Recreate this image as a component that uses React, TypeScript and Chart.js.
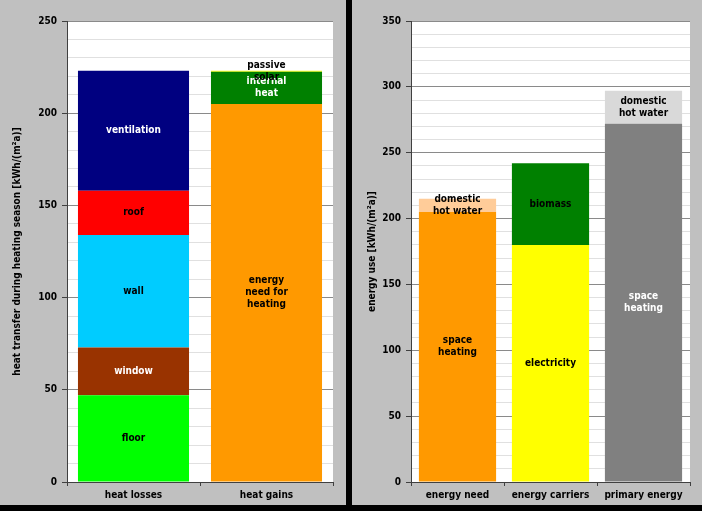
import React, { useEffect, useRef } from 'react';
import { Chart, registerables } from 'chart.js';

Chart.register(...registerables);

const FONT_FAMILY = '"DejaVu Sans Condensed", "DejaVu Sans", Verdana, sans-serif';
const FONT_SIZE = 10;

// ---- Left chart data: heat balance ----
const balanceCategories = ['heat losses', 'heat gains'];
const lossParts = ['floor', 'window', 'wall', 'roof', 'ventilation'];
const lossValues = [47, 26, 61, 24, 65];
const lossLabels = ['floor', 'window', 'wall', 'roof', 'ventilation'];
const gainParts = ['energy need for heating', 'internal heat', 'passive solar'];
const gainValues = [205, 17.5, 0.5];
const gainLabels = ['energy\nneed for\nheating', 'internal\nheat', 'passive\nsolar'];
const balanceMax = 250;
const balanceTitle = 'heat transfer during heating season [kWh/(m²a)]';

// ---- Right chart data: energy use ----
const useCategories = ['energy need', 'energy carriers', 'primary energy'];
const baseValues = [205, 180, 272];
const baseLabels = ['space\nheating', 'electricity', 'space\nheating'];
const topValues = [10, 62, 25];
const topLabels = ['domestic\nhot water', 'biomass', 'domestic\nhot water'];
const useMax = 350;
const useTitle = 'energy use [kWh/(m²a)]';

// ---- Styles ----
const lossColors = ['#00ff00', '#993300', '#00ccff', '#ff0000', '#000080'];
const lossTextColors = ['#000', '#fff', '#000', '#000', '#fff'];
const gainColors = ['#ff9900', '#008000', '#ffff00'];
const gainTextColors = ['#000', '#fff', '#000'];
const baseColors = ['#ff9900', '#ffff00', '#808080'];
const baseTextColors = ['#000', '#000', '#fff'];
const topColors = ['#ffcc99', '#008000', '#d9d9d9'];
const topTextColors = ['#000', '#000', '#000'];

const fontMain = { family: FONT_FAMILY, size: FONT_SIZE, weight: 'bold' as const };

const plotBackground = {
  id: 'plotBackground',
  beforeDraw(chart: any) {
    const { ctx, chartArea } = chart;
    ctx.save();
    ctx.fillStyle = '#ffffff';
    ctx.fillRect(chartArea.left, chartArea.top, chartArea.right - chartArea.left, chartArea.bottom - chartArea.top);
    ctx.restore();
  },
};

const segmentLabels = {
  id: 'segmentLabels',
  afterDatasetsDraw(chart: any) {
    const ctx = chart.ctx;
    ctx.save();
    ctx.font = `bold ${FONT_SIZE}px ${FONT_FAMILY}`;
    ctx.textAlign = 'center';
    ctx.textBaseline = 'middle';
    chart.data.datasets.forEach((ds: any, di: number) => {
      const meta = chart.getDatasetMeta(di);
      meta.data.forEach((el: any, i: number) => {
        const v = ds.data[i];
        if (v == null || !ds.segLabels || !ds.segLabels[i]) return;
        const lines = String(ds.segLabels[i]).split('\n');
        const cy = (el.y + el.base) / 2;
        ctx.fillStyle = ds.segTextColors[i];
        lines.forEach((ln: string, k: number) => {
          ctx.fillText(ln, el.x, cy + (k - (lines.length - 1) / 2) * 12);
        });
      });
    });
    ctx.restore();
  },
};

function makeOptions(max: number, title: string, padRight: number, yWidth: number, titlePad: number) {
  return {
    animation: false,
    responsive: false,
    maintainAspectRatio: false,
    layout: { padding: { top: 21, right: padRight, bottom: 0, left: 0 } },
    plugins: { legend: { display: false }, tooltip: { enabled: false } },
    scales: {
      x: {
        stacked: true,
        afterFit: (s: any) => { s.height = 23; },
        grid: { drawOnChartArea: false, drawTicks: true, tickLength: 4, color: '#404040', offset: true },
        border: { color: '#404040', width: 1 },
        ticks: { font: fontMain, color: '#000', padding: 3, maxRotation: 0 },
      },
      y: {
        stacked: true,
        min: 0,
        max,
        afterFit: (s: any) => { s.width = yWidth; },
        ticks: {
          stepSize: 10,
          autoSkip: false,
          callback: (v: any) => (Number(v) % 50 === 0 ? String(v) : ''),
          font: fontMain,
          color: '#000',
          padding: 5,
        },
        grid: {
          color: (c: any) => (c.tick && c.tick.value % 50 === 0 ? '#8a8a8a' : '#e0e0e0'),
          tickColor: (c: any) => (c.tick && c.tick.value % 50 === 0 ? '#404040' : 'rgba(0,0,0,0)'),
          tickLength: 5,
          lineWidth: 1,
        },
        border: { color: '#404040', width: 1 },
        title: { display: true, text: title, font: fontMain, color: '#000', padding: { top: titlePad, bottom: 0 } },
      },
    },
  };
}

function BalanceChart() {
  const ref = useRef<HTMLCanvasElement>(null);
  useEffect(() => {
    const datasets: any[] = [];
    lossParts.forEach((name, i) => {
      datasets.push({
        label: name,
        data: [lossValues[i], null],
        backgroundColor: lossColors[i],
        borderWidth: 0,
        barPercentage: 0.835,
        categoryPercentage: 1,
        segLabels: [lossLabels[i], null],
        segTextColors: [lossTextColors[i], lossTextColors[i]],
      });
    });
    gainParts.forEach((name, i) => {
      datasets.push({
        label: name,
        data: [null, gainValues[i]],
        backgroundColor: gainColors[i],
        borderWidth: 0,
        barPercentage: 0.835,
        categoryPercentage: 1,
        segLabels: [null, gainLabels[i]],
        segTextColors: [gainTextColors[i], gainTextColors[i]],
      });
    });
    const chart = new Chart(ref.current as HTMLCanvasElement, {
      type: 'bar',
      data: { labels: balanceCategories, datasets },
      options: makeOptions(balanceMax, balanceTitle, 13, 67, 11) as any,
      plugins: [plotBackground, segmentLabels],
    });
    return () => chart.destroy();
  }, []);
  return <canvas ref={ref} width={346} height={505} style={{ width: 346, height: 505, display: 'block' }} />;
}

function UseChart() {
  const ref = useRef<HTMLCanvasElement>(null);
  useEffect(() => {
    const datasets: any[] = [
      {
        label: 'base',
        data: baseValues,
        backgroundColor: baseColors,
        borderWidth: 0,
        barPercentage: 0.83,
        categoryPercentage: 1,
        segLabels: baseLabels,
        segTextColors: baseTextColors,
      },
      {
        label: 'top',
        data: topValues,
        backgroundColor: topColors,
        borderWidth: 0,
        barPercentage: 0.83,
        categoryPercentage: 1,
        segLabels: topLabels,
        segTextColors: topTextColors,
      },
    ];
    const chart = new Chart(ref.current as HTMLCanvasElement, {
      type: 'bar',
      data: { labels: useCategories, datasets },
      options: makeOptions(useMax, useTitle, 12, 59, 14) as any,
      plugins: [plotBackground, segmentLabels],
    });
    return () => chart.destroy();
  }, []);
  return <canvas ref={ref} width={350} height={505} style={{ width: 350, height: 505, display: 'block' }} />;
}

export default function App() {
  return (
    <div style={{ position: 'absolute', left: 0, top: 0, width: 702, height: 511, background: '#000', overflow: 'hidden' }}>
      <div style={{ position: 'absolute', left: 0, top: 0, width: 346, height: 505, background: '#c0c0c0' }}>
        <BalanceChart />
      </div>
      <div style={{ position: 'absolute', left: 352, top: 0, width: 350, height: 505, background: '#c0c0c0' }}>
        <UseChart />
      </div>
    </div>
  );
}
